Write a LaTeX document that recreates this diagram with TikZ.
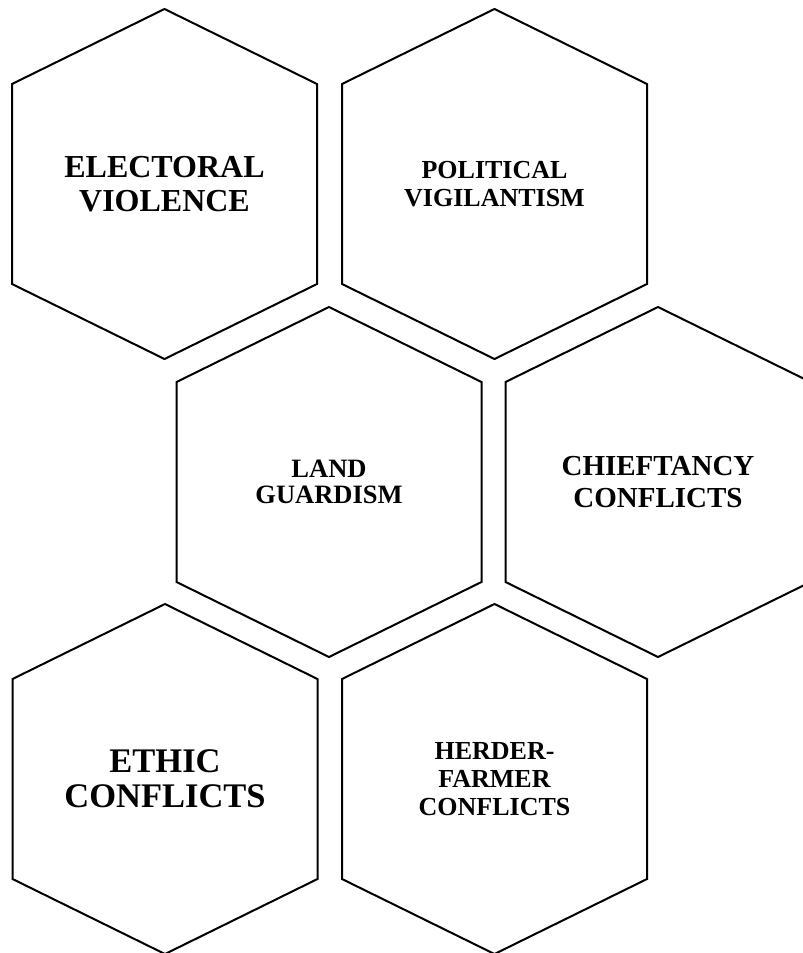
\documentclass[tikz,border=0pt]{standalone}
\usepackage{fontspec}
\setmainfont{Liberation Serif}

\tikzset{
	cell/.style={line width=2pt, line join=miter},
	celltext/.style={align=center, inner sep=0pt},
}
% font size and line distance of a cell label
\newcommand{\cellfont}[2]{\fontsize{#1}{#2}\selectfont\bfseries}

\begin{document}
\begin{tikzpicture}[x=1pt,y=-1pt]
	\useasboundingbox (0,0) rectangle (803,953);
	\clip (0,0) rectangle (803,953);
	% honeycomb cells, pointy top
	\foreach \cx/\cy in {164.5/184, 494.5/184, 329/482, 658/482, 165/779, 494.5/779}
		\draw[cell] (\cx,\cy) ++(0,-175) -- ++(152.5,75) -- ++(0,200)
			-- ++(-152.5,75) -- ++(-152.5,-75) -- ++(0,-200) -- cycle;
	\node[celltext,font=\cellfont{32}{34}] (electoral) at (164.5,184) {ELECTORAL\\VIOLENCE};
	\node[celltext,font=\cellfont{26}{28.5}] (vigilantism) at (494.5,184) {POLITICAL\\VIGILANTISM};
	\node[celltext,font=\cellfont{26.5}{26.5}] (guardism) at (329,482) {LAND\\GUARDISM};
	\node[celltext,font=\cellfont{29}{32}] (chieftancy) at (658,482) {CHIEFTANCY\\CONFLICTS};
	\node[celltext,font=\cellfont{34.5}{35}] (ethic) at (165,779) {ETHIC\\CONFLICTS};
	\node[celltext,font=\cellfont{26}{28}] (herder) at (494.5,779) {HERDER-\\FARMER\\CONFLICTS};
\end{tikzpicture}
\end{document}
